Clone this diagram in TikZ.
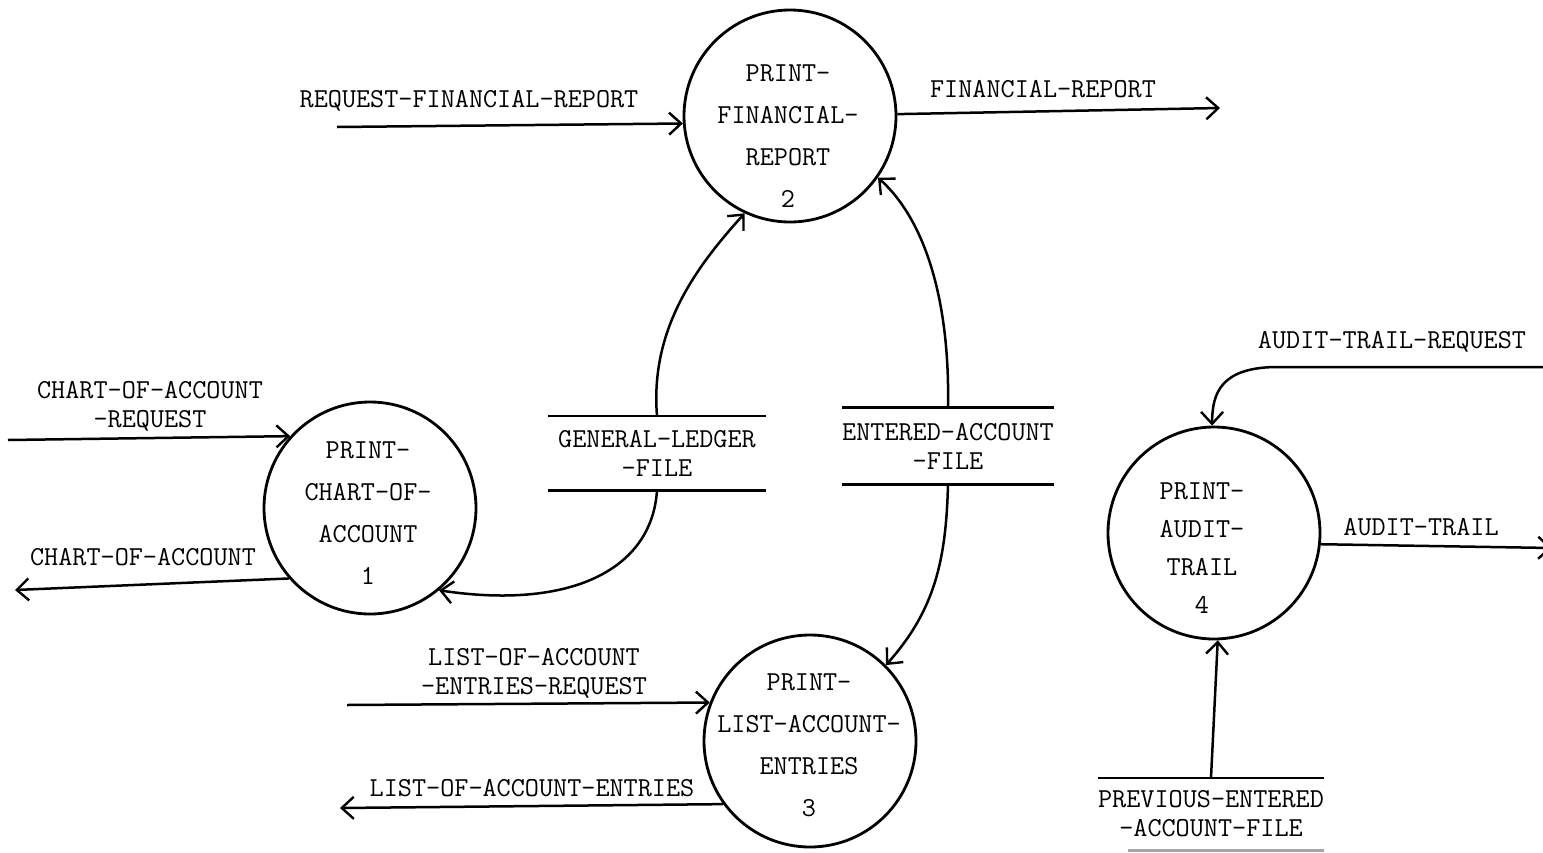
\documentclass[tikz,border=0pt]{standalone}
\usepackage{fontspec}
\usetikzlibrary{arrows.meta}
\begin{document}
\begin{tikzpicture}[x=1pt,y=-1pt,
  proc/.style={circle,draw,line width=2.8pt,minimum size=212pt,inner sep=0pt},
  ptext/.style={font=\ttfamily\fontsize{27.4}{42}\selectfont,align=center,inner sep=0pt},
  lbl/.style={font=\ttfamily\fontsize{27.4}{29}\selectfont,align=center,inner sep=0pt},
  store/.style={font=\ttfamily\fontsize{27.4}{29}\selectfont,align=center,inner sep=0pt,minimum height=74pt},
  storeline/.style={line width=2.6pt},
  flow/.style={line width=2.5pt,-{Straight Barb[length=12pt,width=22pt,line width=2.4pt]}},
]
\useasboundingbox (0,0) rectangle (1543,852);

% processes
\node[proc] (p1) at (370,508) {};
\node[proc] (p2) at (790,116) {};
\node[proc] (p3) at (810,741) {};
\node[proc] (p4) at (1214,533) {};

\node[ptext] (p1t) at (368,513) {PRINT-\\CHART-OF-\\ACCOUNT\\1};
\node[ptext] (p2t) at (788,136) {PRINT-\\FINANCIAL-\\REPORT\\2};
\node[ptext] (p3t) at (809,745) {PRINT-\\LIST-ACCOUNT-\\ENTRIES\\3};
\node[ptext,font=\ttfamily\fontsize{27.4}{38}\selectfont] (p4t) at (1202,548) {PRINT-\\AUDIT-\\TRAIL\\4};

% data stores
\node[store,minimum width=218pt] (gl) at (657,453) {GENERAL-LEDGER\\-FILE};
\node[store,minimum width=212pt,minimum height=77pt] (ea) at (948,446) {ENTERED-ACCOUNT\\-FILE};
\node[store,minimum width=217pt,minimum height=72pt] (pe) at (1211,814) {PREVIOUS-ENTERED\\-ACCOUNT-FILE};

\draw[storeline] (gl.north west) -- (gl.north east) (gl.south west) -- (gl.south east);
\draw[storeline] (ea.north west) -- (ea.north east) (ea.south west) -- (ea.south east);
\draw[storeline] (pe.north west) -- (pe.north east);
\draw[storeline,black!35] (pe.south west) ++(30,0) -- (pe.south east);

% free ends of the flows
\coordinate (rfr) at (337,127);
\coordinate (fr) at (1220,108);
\coordinate (coar) at (8,440);
\coordinate (coa) at (15,590);
\coordinate (laer) at (347,705);
\coordinate (lae) at (340,808);
\coordinate (atr) at (1560,367);
\coordinate (at) at (1552,548);

% flows
\draw[flow] (rfr) -- (p2.184);
\draw[flow] (p2.1) -- (fr);
\draw[flow] (coar) -- (p1.138);
\draw[flow] (p1.221) -- (coa);
\draw[flow] (laer) -- (p3.159);
\draw[flow] (p3.216) -- (lae);
\draw[flow] (p4.-6) -- (at);
\draw[flow] (atr) -- (1275,367) .. controls (1222,368) and (1212,392) .. (p4.91);
\draw[flow] (pe.north) -- (p4.-88);

\draw[flow] (gl.north) .. controls (650,330) and (695,268) .. (p2.-115);
\draw[flow] (gl.south) .. controls (652,570) and (570,610) .. (p1.-50);
\draw[flow] (ea.north) .. controls (950,300) and (925,220) .. (p2.-35);
\draw[flow] (ea.south) .. controls (946,560) and (935,610) .. (p3.45);

% flow labels
\node[lbl] (l1) at (469,101) {REQUEST-FINANCIAL-REPORT};
\node[lbl] (l2) at (1043,89) {FINANCIAL-REPORT};
\node[lbl] (l3) at (150,406) {CHART-OF-ACCOUNT\\-REQUEST};
\node[lbl] (l4) at (143,557) {CHART-OF-ACCOUNT};
\node[lbl] (l5) at (534,673) {LIST-OF-ACCOUNT\\-ENTRIES-REQUEST};
\node[lbl] (l6) at (532,788) {LIST-OF-ACCOUNT-ENTRIES};
\node[lbl] (l7) at (1392,342) {AUDIT-TRAIL-REQUEST};
\node[lbl] (l8) at (1421,527) {AUDIT-TRAIL};
\end{tikzpicture}
\end{document}
